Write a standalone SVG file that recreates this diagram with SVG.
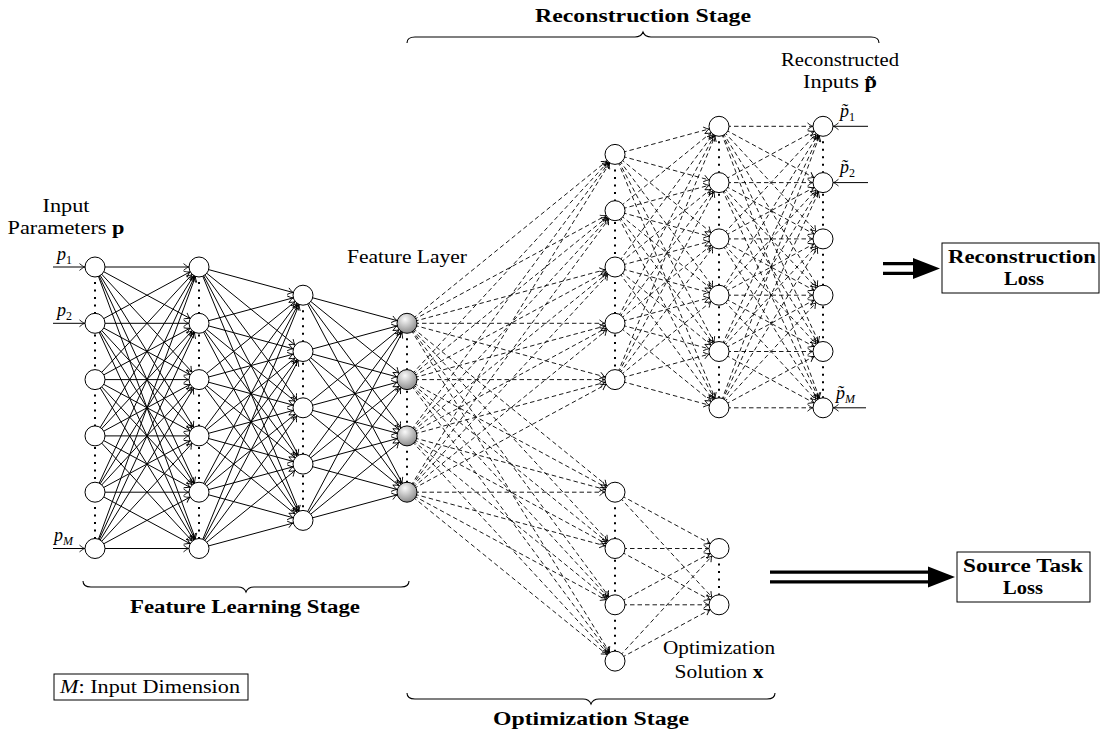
<svg xmlns="http://www.w3.org/2000/svg" width="1102" height="730" viewBox="0 0 1102 730">
<style>
.t{font-family:"Liberation Serif","DejaVu Serif",serif;font-size:18px;fill:#000}
.b{font-weight:bold}
.i{font-style:italic}
.u{font-style:normal}
.s path{fill:none;stroke:#000;stroke-width:1;marker-end:url(#ah)}
.d path{fill:none;stroke:#000;stroke-width:0.9;stroke-dasharray:4.5 3;marker-end:url(#ah)}
.dot{fill:none;stroke:#000;stroke-width:2;stroke-dasharray:2 5.5}
.n{fill:#fff;stroke:#000;stroke-width:1}
.f{fill:url(#gr);stroke:#000;stroke-width:1}
.box{fill:#fff;stroke:#000;stroke-width:1}
.br{fill:none;stroke:#000;stroke-width:1.1}
</style>
<defs>
<marker id="ah" markerUnits="userSpaceOnUse" viewBox="-20 -6 20 12" markerWidth="20" markerHeight="12" refX="0" refY="0" orient="auto" overflow="visible">
<path d="M-15.5,-3.4 C-13,-1.4 -11.6,-0.4 -10.3,0 C-11.6,0.4 -13,1.4 -15.5,3.4" fill="none" stroke="#000" stroke-width="0.9" stroke-dasharray="none"/>
</marker>
<radialGradient id="gr" cx="0.4" cy="0.3" r="0.8">
<stop offset="0" stop-color="#fafafa"/>
<stop offset="1" stop-color="#7c7c7c"/>
</radialGradient>
</defs>

<g id="layer-dots">
<path class="dot" d="M95 267V548.5M199 267V548.5M303 295.2V520.4M407 323.3V492.2M615 154.4V379.6M719 126.3V407.8M823 126.3V407.8M615 492.2V661.1M719 548.5V604.8"/>
</g>

<g id="connectors">
<g class="s">
<path d="M53 267 95 267"/><path d="M53 323.3 95 323.3"/><path d="M53 548.5 95 548.5"/>
<path d="M868 126.3 823 126.3"/><path d="M868 182.6 823 182.6"/><path d="M866 407.8 823 407.8"/>
<path d="M95 267 199 267"/><path d="M95 267 199 323.3"/><path d="M95 267 199 379.6"/><path d="M95 267 199 435.9"/><path d="M95 267 199 492.2"/><path d="M95 267 199 548.5"/>
<path d="M95 323.3 199 267"/><path d="M95 323.3 199 323.3"/><path d="M95 323.3 199 379.6"/><path d="M95 323.3 199 435.9"/><path d="M95 323.3 199 492.2"/><path d="M95 323.3 199 548.5"/>
<path d="M95 379.6 199 267"/><path d="M95 379.6 199 323.3"/><path d="M95 379.6 199 379.6"/><path d="M95 379.6 199 435.9"/><path d="M95 379.6 199 492.2"/><path d="M95 379.6 199 548.5"/>
<path d="M95 435.9 199 267"/><path d="M95 435.9 199 323.3"/><path d="M95 435.9 199 379.6"/><path d="M95 435.9 199 435.9"/><path d="M95 435.9 199 492.2"/><path d="M95 435.9 199 548.5"/>
<path d="M95 492.2 199 267"/><path d="M95 492.2 199 323.3"/><path d="M95 492.2 199 379.6"/><path d="M95 492.2 199 435.9"/><path d="M95 492.2 199 492.2"/><path d="M95 492.2 199 548.5"/>
<path d="M95 548.5 199 267"/><path d="M95 548.5 199 323.3"/><path d="M95 548.5 199 379.6"/><path d="M95 548.5 199 435.9"/><path d="M95 548.5 199 492.2"/><path d="M95 548.5 199 548.5"/>
<path d="M199 267 303 295.2"/><path d="M199 267 303 351.5"/><path d="M199 267 303 407.8"/><path d="M199 267 303 464.1"/><path d="M199 267 303 520.4"/>
<path d="M199 323.3 303 295.2"/><path d="M199 323.3 303 351.5"/><path d="M199 323.3 303 407.8"/><path d="M199 323.3 303 464.1"/><path d="M199 323.3 303 520.4"/>
<path d="M199 379.6 303 295.2"/><path d="M199 379.6 303 351.5"/><path d="M199 379.6 303 407.8"/><path d="M199 379.6 303 464.1"/><path d="M199 379.6 303 520.4"/>
<path d="M199 435.9 303 295.2"/><path d="M199 435.9 303 351.5"/><path d="M199 435.9 303 407.8"/><path d="M199 435.9 303 464.1"/><path d="M199 435.9 303 520.4"/>
<path d="M199 492.2 303 295.2"/><path d="M199 492.2 303 351.5"/><path d="M199 492.2 303 407.8"/><path d="M199 492.2 303 464.1"/><path d="M199 492.2 303 520.4"/>
<path d="M199 548.5 303 295.2"/><path d="M199 548.5 303 351.5"/><path d="M199 548.5 303 407.8"/><path d="M199 548.5 303 464.1"/><path d="M199 548.5 303 520.4"/>
<path d="M303 295.2 407 323.3"/><path d="M303 295.2 407 379.6"/><path d="M303 295.2 407 435.9"/><path d="M303 295.2 407 492.2"/>
<path d="M303 351.5 407 323.3"/><path d="M303 351.5 407 379.6"/><path d="M303 351.5 407 435.9"/><path d="M303 351.5 407 492.2"/>
<path d="M303 407.8 407 323.3"/><path d="M303 407.8 407 379.6"/><path d="M303 407.8 407 435.9"/><path d="M303 407.8 407 492.2"/>
<path d="M303 464.1 407 323.3"/><path d="M303 464.1 407 379.6"/><path d="M303 464.1 407 435.9"/><path d="M303 464.1 407 492.2"/>
<path d="M303 520.4 407 323.3"/><path d="M303 520.4 407 379.6"/><path d="M303 520.4 407 435.9"/><path d="M303 520.4 407 492.2"/>
</g>
<g class="d">
<path d="M407 323.3 615 154.4"/><path d="M407 323.3 615 210.7"/><path d="M407 323.3 615 267"/><path d="M407 323.3 615 323.3"/><path d="M407 323.3 615 379.6"/>
<path d="M407 379.6 615 154.4"/><path d="M407 379.6 615 210.7"/><path d="M407 379.6 615 267"/><path d="M407 379.6 615 323.3"/><path d="M407 379.6 615 379.6"/>
<path d="M407 435.9 615 154.4"/><path d="M407 435.9 615 210.7"/><path d="M407 435.9 615 267"/><path d="M407 435.9 615 323.3"/><path d="M407 435.9 615 379.6"/>
<path d="M407 492.2 615 154.4"/><path d="M407 492.2 615 210.7"/><path d="M407 492.2 615 267"/><path d="M407 492.2 615 323.3"/><path d="M407 492.2 615 379.6"/>
<path d="M615 154.4 719 126.3"/><path d="M615 154.4 719 182.6"/><path d="M615 154.4 719 238.9"/><path d="M615 154.4 719 295.2"/><path d="M615 154.4 719 351.5"/><path d="M615 154.4 719 407.8"/>
<path d="M615 210.7 719 126.3"/><path d="M615 210.7 719 182.6"/><path d="M615 210.7 719 238.9"/><path d="M615 210.7 719 295.2"/><path d="M615 210.7 719 351.5"/><path d="M615 210.7 719 407.8"/>
<path d="M615 267 719 126.3"/><path d="M615 267 719 182.6"/><path d="M615 267 719 238.9"/><path d="M615 267 719 295.2"/><path d="M615 267 719 351.5"/><path d="M615 267 719 407.8"/>
<path d="M615 323.3 719 126.3"/><path d="M615 323.3 719 182.6"/><path d="M615 323.3 719 238.9"/><path d="M615 323.3 719 295.2"/><path d="M615 323.3 719 351.5"/><path d="M615 323.3 719 407.8"/>
<path d="M615 379.6 719 126.3"/><path d="M615 379.6 719 182.6"/><path d="M615 379.6 719 238.9"/><path d="M615 379.6 719 295.2"/><path d="M615 379.6 719 351.5"/><path d="M615 379.6 719 407.8"/>
<path d="M719 126.3 823 126.3"/><path d="M719 126.3 823 182.6"/><path d="M719 126.3 823 238.9"/><path d="M719 126.3 823 295.2"/><path d="M719 126.3 823 351.5"/><path d="M719 126.3 823 407.8"/>
<path d="M719 182.6 823 126.3"/><path d="M719 182.6 823 182.6"/><path d="M719 182.6 823 238.9"/><path d="M719 182.6 823 295.2"/><path d="M719 182.6 823 351.5"/><path d="M719 182.6 823 407.8"/>
<path d="M719 238.9 823 126.3"/><path d="M719 238.9 823 182.6"/><path d="M719 238.9 823 238.9"/><path d="M719 238.9 823 295.2"/><path d="M719 238.9 823 351.5"/><path d="M719 238.9 823 407.8"/>
<path d="M719 295.2 823 126.3"/><path d="M719 295.2 823 182.6"/><path d="M719 295.2 823 238.9"/><path d="M719 295.2 823 295.2"/><path d="M719 295.2 823 351.5"/><path d="M719 295.2 823 407.8"/>
<path d="M719 351.5 823 126.3"/><path d="M719 351.5 823 182.6"/><path d="M719 351.5 823 238.9"/><path d="M719 351.5 823 295.2"/><path d="M719 351.5 823 351.5"/><path d="M719 351.5 823 407.8"/>
<path d="M719 407.8 823 126.3"/><path d="M719 407.8 823 182.6"/><path d="M719 407.8 823 238.9"/><path d="M719 407.8 823 295.2"/><path d="M719 407.8 823 351.5"/><path d="M719 407.8 823 407.8"/>
<path d="M407 323.3 615 492.2"/><path d="M407 323.3 615 548.5"/><path d="M407 323.3 615 604.8"/><path d="M407 323.3 615 661.1"/>
<path d="M407 379.6 615 492.2"/><path d="M407 379.6 615 548.5"/><path d="M407 379.6 615 604.8"/><path d="M407 379.6 615 661.1"/>
<path d="M407 435.9 615 492.2"/><path d="M407 435.9 615 548.5"/><path d="M407 435.9 615 604.8"/><path d="M407 435.9 615 661.1"/>
<path d="M407 492.2 615 492.2"/><path d="M407 492.2 615 548.5"/><path d="M407 492.2 615 604.8"/><path d="M407 492.2 615 661.1"/>
<path d="M615 492.2 719 548.5"/><path d="M615 492.2 719 604.8"/>
<path d="M615 548.5 719 548.5"/><path d="M615 548.5 719 604.8"/>
<path d="M615 604.8 719 548.5"/><path d="M615 604.8 719 604.8"/>
<path d="M615 661.1 719 548.5"/><path d="M615 661.1 719 604.8"/>
</g>
<g id="loss-arrows">
<path d="M883 268.5H916" stroke="#000" stroke-width="13" fill="none"/>
<path d="M881 268.5H918" stroke="#fff" stroke-width="6.5" fill="none"/>
<polygon points="913,258 940,268.5 913,279" fill="#000"/>
<path d="M770 577H930" stroke="#000" stroke-width="13" fill="none"/>
<path d="M768 577H932" stroke="#fff" stroke-width="6.5" fill="none"/>
<polygon points="928,566.5 955,577 928,587.5" fill="#000"/>
</g>
</g>

<g id="in1"><circle class="n" cx="95" cy="267" r="10"/></g>
<g id="in2"><circle class="n" cx="95" cy="323.3" r="10"/></g>
<g id="in3"><circle class="n" cx="95" cy="379.6" r="10"/></g>
<g id="in4"><circle class="n" cx="95" cy="435.9" r="10"/></g>
<g id="in5"><circle class="n" cx="95" cy="492.2" r="10"/></g>
<g id="in6"><circle class="n" cx="95" cy="548.5" r="10"/></g>
<g id="h1a"><circle class="n" cx="199" cy="267" r="10"/></g>
<g id="h1b"><circle class="n" cx="199" cy="323.3" r="10"/></g>
<g id="h1c"><circle class="n" cx="199" cy="379.6" r="10"/></g>
<g id="h1d"><circle class="n" cx="199" cy="435.9" r="10"/></g>
<g id="h1e"><circle class="n" cx="199" cy="492.2" r="10"/></g>
<g id="h1f"><circle class="n" cx="199" cy="548.5" r="10"/></g>
<g id="h2a"><circle class="n" cx="303" cy="295.2" r="10"/></g>
<g id="h2b"><circle class="n" cx="303" cy="351.5" r="10"/></g>
<g id="h2c"><circle class="n" cx="303" cy="407.8" r="10"/></g>
<g id="h2d"><circle class="n" cx="303" cy="464.1" r="10"/></g>
<g id="h2e"><circle class="n" cx="303" cy="520.4" r="10"/></g>
<g id="fa"><circle class="f" cx="407" cy="323.3" r="10"/></g>
<g id="fb"><circle class="f" cx="407" cy="379.6" r="10"/></g>
<g id="fc"><circle class="f" cx="407" cy="435.9" r="10"/></g>
<g id="fd"><circle class="f" cx="407" cy="492.2" r="10"/></g>
<g id="r1a"><circle class="n" cx="615" cy="154.4" r="10"/></g>
<g id="r1b"><circle class="n" cx="615" cy="210.7" r="10"/></g>
<g id="r1c"><circle class="n" cx="615" cy="267" r="10"/></g>
<g id="r1d"><circle class="n" cx="615" cy="323.3" r="10"/></g>
<g id="r1e"><circle class="n" cx="615" cy="379.6" r="10"/></g>
<g id="r2a"><circle class="n" cx="719" cy="126.3" r="10"/></g>
<g id="r2b"><circle class="n" cx="719" cy="182.6" r="10"/></g>
<g id="r2c"><circle class="n" cx="719" cy="238.9" r="10"/></g>
<g id="r2d"><circle class="n" cx="719" cy="295.2" r="10"/></g>
<g id="r2e"><circle class="n" cx="719" cy="351.5" r="10"/></g>
<g id="r2f"><circle class="n" cx="719" cy="407.8" r="10"/></g>
<g id="r3a"><circle class="n" cx="823" cy="126.3" r="10"/></g>
<g id="r3b"><circle class="n" cx="823" cy="182.6" r="10"/></g>
<g id="r3c"><circle class="n" cx="823" cy="238.9" r="10"/></g>
<g id="r3d"><circle class="n" cx="823" cy="295.2" r="10"/></g>
<g id="r3e"><circle class="n" cx="823" cy="351.5" r="10"/></g>
<g id="r3f"><circle class="n" cx="823" cy="407.8" r="10"/></g>
<g id="o1a"><circle class="n" cx="615" cy="492.2" r="10"/></g>
<g id="o1b"><circle class="n" cx="615" cy="548.5" r="10"/></g>
<g id="o1c"><circle class="n" cx="615" cy="604.8" r="10"/></g>
<g id="o1d"><circle class="n" cx="615" cy="661.1" r="10"/></g>
<g id="o2a"><circle class="n" cx="719" cy="548.5" r="10"/></g>
<g id="o2b"><circle class="n" cx="719" cy="604.8" r="10"/></g>

<g id="input-label">
<text class="t" x="66" y="212" text-anchor="middle" textLength="47" lengthAdjust="spacingAndGlyphs">Input</text>
<text class="t" x="66" y="234" text-anchor="middle" textLength="117" lengthAdjust="spacingAndGlyphs">Parameters <tspan class="b">p</tspan></text>
</g>
<g id="p-labels">
<text class="t i" x="57" y="260">p<tspan class="u" font-size="12" dy="4">1</tspan></text>
<text class="t i" x="57" y="316">p<tspan class="u" font-size="12" dy="4">2</tspan></text>
<text class="t i" x="54" y="541">p<tspan font-size="12" dy="4">M</tspan></text>
<text class="t i" x="840" y="117">p̃<tspan class="u" font-size="12" dy="4">1</tspan></text>
<text class="t i" x="840" y="173">p̃<tspan class="u" font-size="12" dy="4">2</tspan></text>
<text class="t i" x="836" y="399">p̃<tspan font-size="12" dy="4">M</tspan></text>
</g>
<g id="feature-label">
<text class="t" x="347" y="263" textLength="120" lengthAdjust="spacingAndGlyphs">Feature Layer</text>
</g>
<g id="recon-label">
<text class="t" x="840" y="66" text-anchor="middle" textLength="118" lengthAdjust="spacingAndGlyphs">Reconstructed</text>
<text class="t" x="840" y="88" text-anchor="middle" textLength="74" lengthAdjust="spacingAndGlyphs">Inputs <tspan class="b">p̃</tspan></text>
</g>
<g id="opt-label">
<text class="t" x="719" y="654" text-anchor="middle" textLength="112" lengthAdjust="spacingAndGlyphs">Optimization</text>
<text class="t" x="719" y="678" text-anchor="middle" textLength="89" lengthAdjust="spacingAndGlyphs">Solution <tspan class="b">x</tspan></text>
</g>

<g id="brace-recon">
<path class="br" d="M407 43Q407 37 415 37L635 37Q641 37 643 32Q645 37 651 37L871 37Q879 37 879 43"/>
<text class="t b" x="643" y="22" text-anchor="middle" textLength="216" lengthAdjust="spacingAndGlyphs">Reconstruction Stage</text>
</g>
<g id="brace-feature">
<path class="br" d="M83 581Q83 587 91 587L238 587Q244 587 246 592Q248 587 254 587L401 587Q409 587 409 581"/>
<text class="t b" x="245" y="613" text-anchor="middle" textLength="230" lengthAdjust="spacingAndGlyphs">Feature Learning Stage</text>
</g>
<g id="brace-opt">
<path class="br" d="M407 693Q407 699 415 699L583 699Q589 699 591 704Q593 699 599 699L767 699Q775 699 775 693"/>
<text class="t b" x="591" y="725" text-anchor="middle" textLength="196" lengthAdjust="spacingAndGlyphs">Optimization Stage</text>
</g>

<g id="recon-loss">
<rect class="box" x="942" y="243" width="157" height="50"/>
<text class="t b" x="1022" y="263" text-anchor="middle" textLength="148" lengthAdjust="spacingAndGlyphs">Reconstruction</text>
<text class="t b" x="1024" y="285" text-anchor="middle" textLength="40" lengthAdjust="spacingAndGlyphs">Loss</text>
</g>
<g id="source-loss">
<rect class="box" x="957" y="552" width="133" height="50"/>
<text class="t b" x="1023" y="572" text-anchor="middle" textLength="120" lengthAdjust="spacingAndGlyphs">Source Task</text>
<text class="t b" x="1023" y="594" text-anchor="middle" textLength="40" lengthAdjust="spacingAndGlyphs">Loss</text>
</g>

<g id="legend">
<rect class="box" x="54" y="674" width="194" height="26"/>
<text class="t" x="60" y="693" textLength="180" lengthAdjust="spacingAndGlyphs"><tspan class="i">M</tspan>: Input Dimension</text>
</g>
</svg>
